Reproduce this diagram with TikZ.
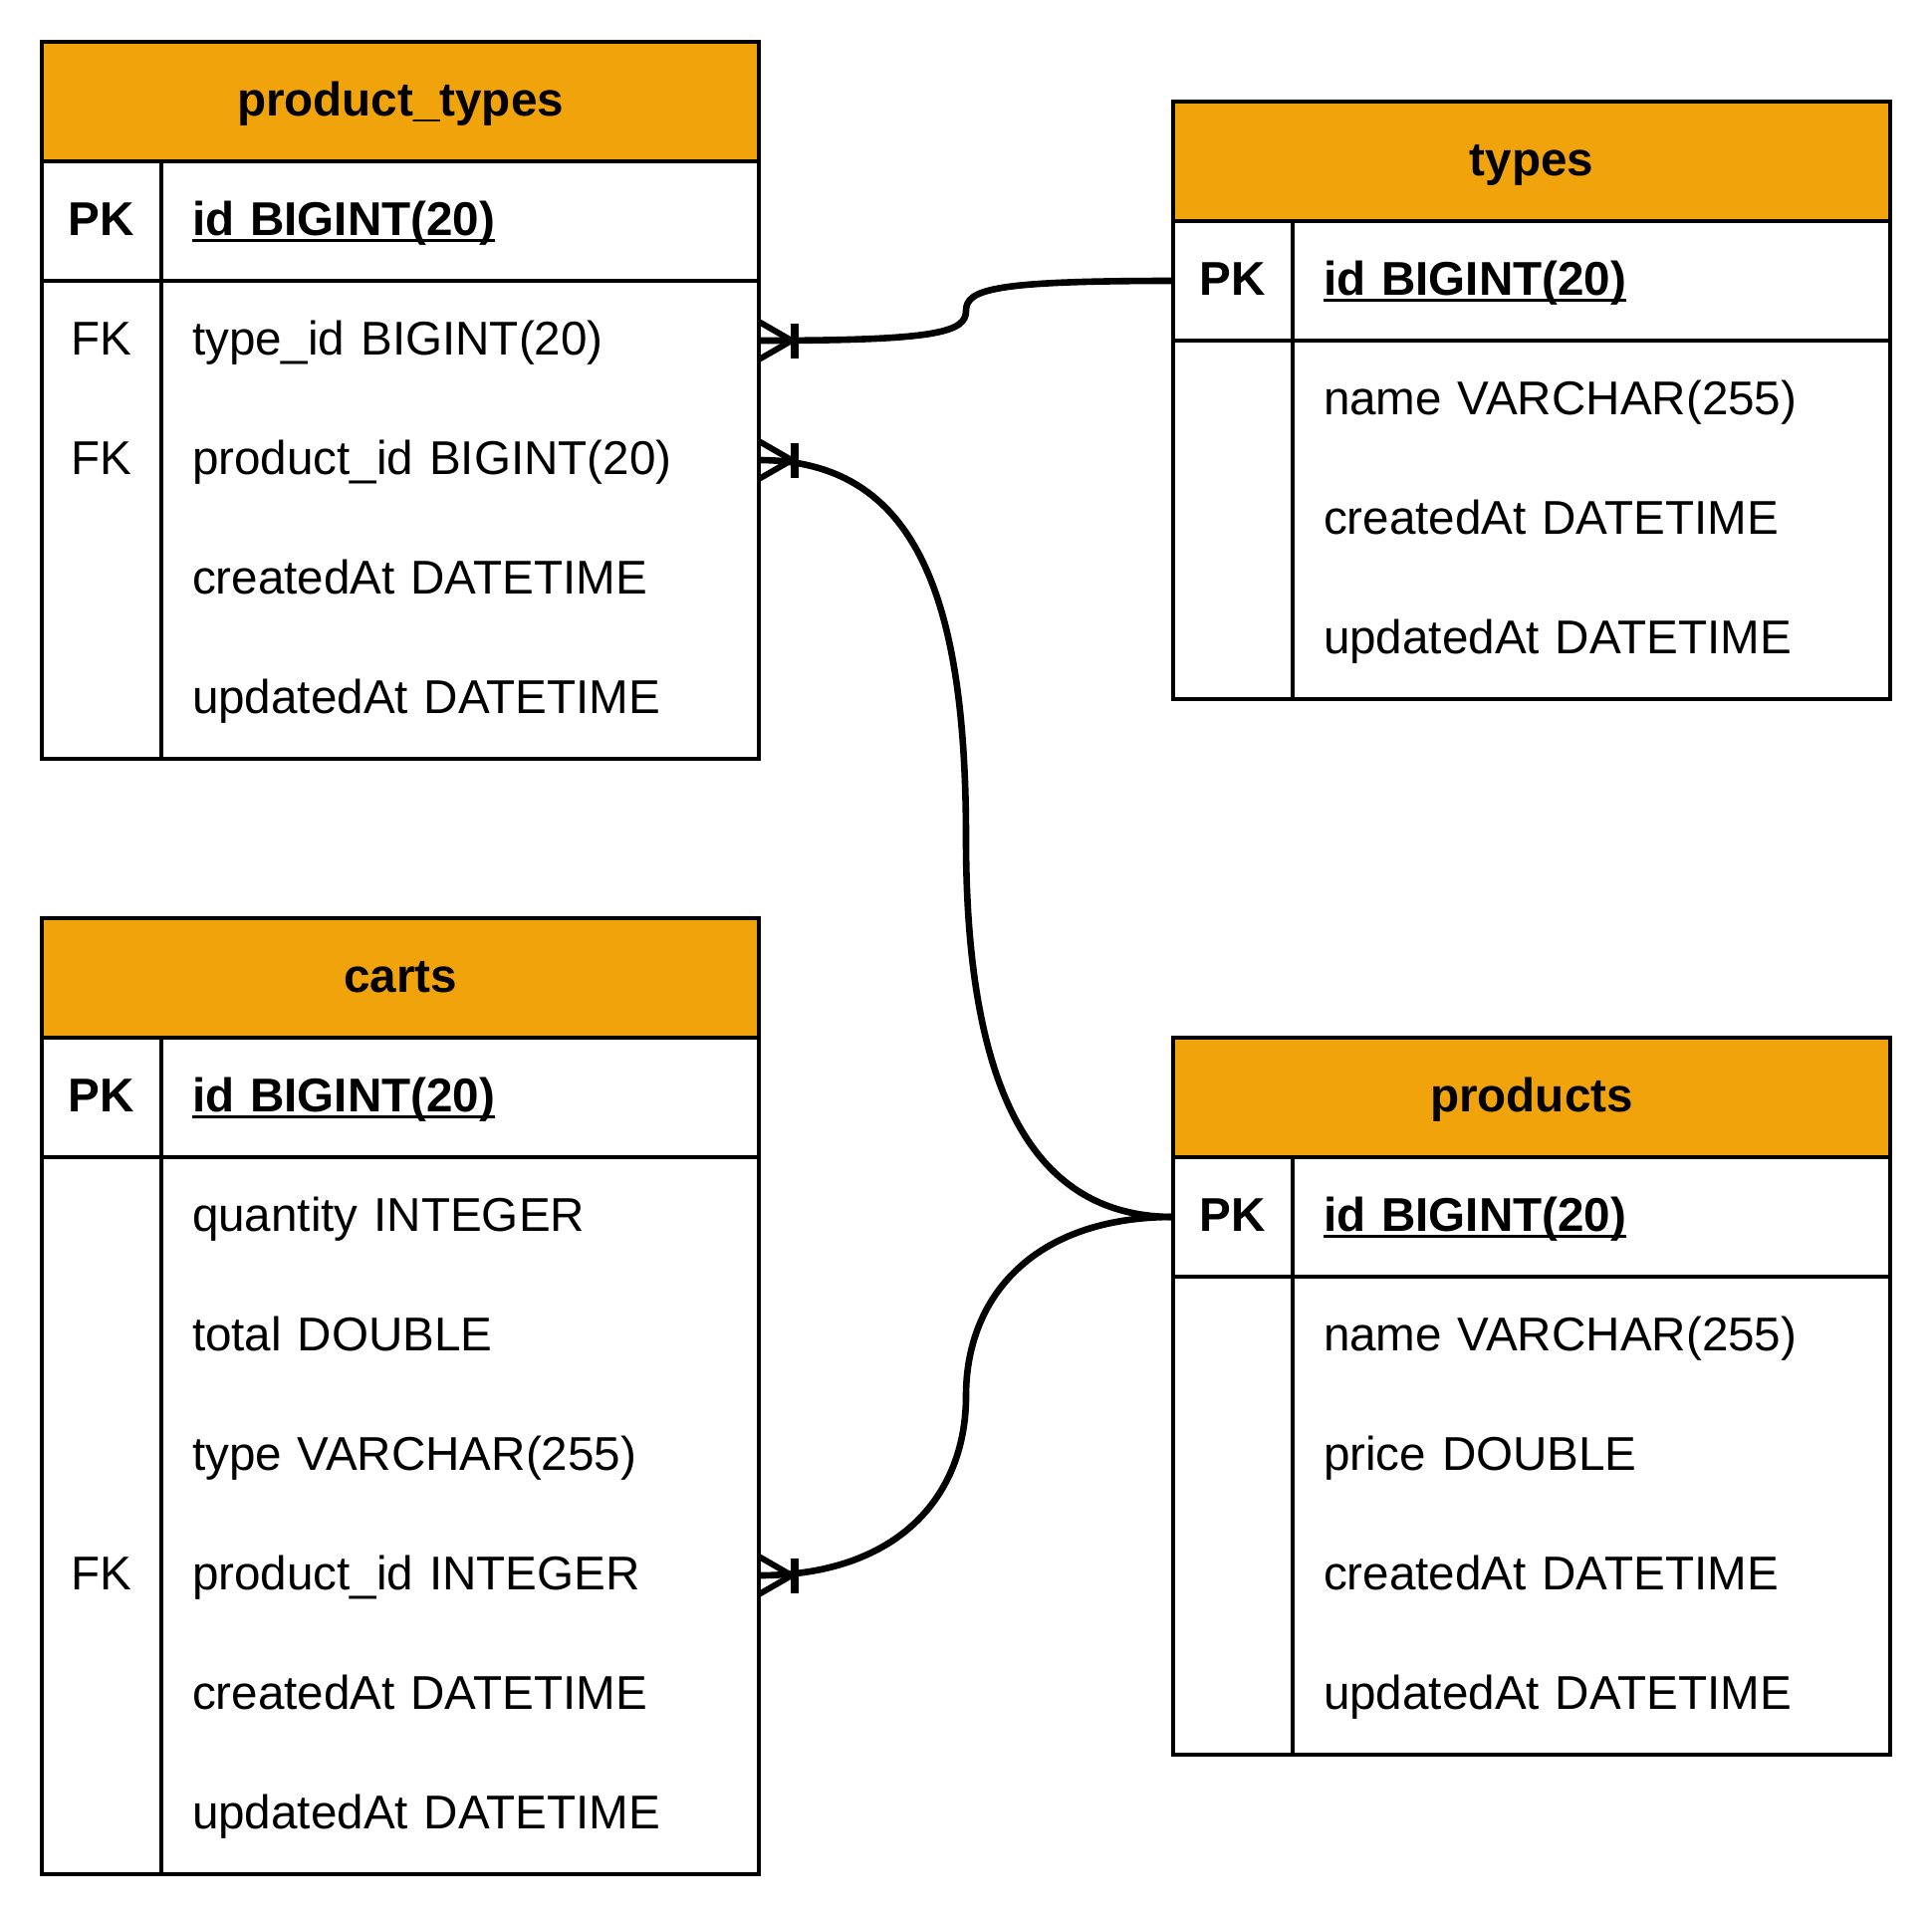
\documentclass[tikz,border=0pt]{standalone}
\usepackage{fontspec}
\setmainfont{Liberation Sans}
\usetikzlibrary{positioning,calc}

\definecolor{hdrorange}{HTML}{F0A30A}
\newcommand\cellfont{\fontsize{23.8pt}{28pt}\selectfont}
\newsavebox\pkbox
\newcommand\pkfield[1]{\sbox\pkbox{\bfseries #1}\rlap{\rule[-3.5pt]{\wd\pkbox}{1.5pt}}\usebox\pkbox}
\newcommand\crowend[1]{%
  \draw[crow] ([yshift=9.5pt]#1) -- ([xshift=16.5pt]#1) -- ([yshift=-9.5pt]#1);
  \draw[crowbar] ([xshift=18pt,yshift=8.75pt]#1) -- ([xshift=18pt,yshift=-8.75pt]#1);}

\begin{document}
\begin{tikzpicture}
  [x=0.5pt,y=-0.5pt,
   tblhead/.style={draw,fill=hdrorange,line width=2pt,minimum width=360pt,minimum height=60pt,
     inner sep=0pt,outer sep=0pt,font=\cellfont\bfseries,text height=19pt,text depth=4.8pt},
   keycell/.style={minimum width=60pt,minimum height=60pt,inner sep=0pt,outer sep=0pt,
     font=\cellfont,text height=19pt,text depth=4.8pt},
   fieldcell/.style={minimum height=60pt,inner xsep=15.5pt,inner ysep=0pt,outer sep=0pt,
     text width=269pt,align=left,font=\cellfont,text height=19pt,text depth=4.8pt},
   tblline/.style={line width=2pt},
   relline/.style={line width=3.3pt},
   crow/.style={line width=3pt},
   crowbar/.style={line width=4pt}]

  \useasboundingbox (0,0) rectangle (1940,1924);

  % product_types
  \node[tblhead] (pt) at (402,102) {product\_types};
  \node[keycell,anchor=north west] (pt-k0) at (pt.south west) {\textbf{PK}};
  \node[fieldcell,right=0pt of pt-k0] (pt-f0) {\pkfield{id BIGINT(20)}};
  \node[keycell,below=0pt of pt-k0] (pt-k1) {FK};
  \node[fieldcell,right=0pt of pt-k1] (pt-f1) {type\_id BIGINT(20)};
  \node[keycell,below=0pt of pt-k1] (pt-k2) {FK};
  \node[fieldcell,right=0pt of pt-k2] (pt-f2) {product\_id BIGINT(20)};
  \node[keycell,below=0pt of pt-k2] (pt-k3) {};
  \node[fieldcell,right=0pt of pt-k3] (pt-f3) {createdAt DATETIME};
  \node[keycell,below=0pt of pt-k3] (pt-k4) {};
  \node[fieldcell,right=0pt of pt-k4] (pt-f4) {updatedAt DATETIME};

  \draw[tblline] (pt.north west) rectangle (pt-f4.south east);
  \draw[tblline] (pt-k0.south west) -- (pt-f0.south east);
  \draw[tblline] (pt-k0.north east) -- (pt-k4.south east);

  % types
  \node[tblhead] (ty) at (1538,162) {types};
  \node[keycell,anchor=north west] (ty-k0) at (ty.south west) {\textbf{PK}};
  \node[fieldcell,right=0pt of ty-k0] (ty-f0) {\pkfield{id BIGINT(20)}};
  \node[keycell,below=0pt of ty-k0] (ty-k1) {};
  \node[fieldcell,right=0pt of ty-k1] (ty-f1) {name VARCHAR(255)};
  \node[keycell,below=0pt of ty-k1] (ty-k2) {};
  \node[fieldcell,right=0pt of ty-k2] (ty-f2) {createdAt DATETIME};
  \node[keycell,below=0pt of ty-k2] (ty-k3) {};
  \node[fieldcell,right=0pt of ty-k3] (ty-f3) {updatedAt DATETIME};

  \draw[tblline] (ty.north west) rectangle (ty-f3.south east);
  \draw[tblline] (ty-k0.south west) -- (ty-f0.south east);
  \draw[tblline] (ty-k0.north east) -- (ty-k3.south east);

  % carts
  \node[tblhead] (ca) at (402,982) {carts};
  \node[keycell,anchor=north west] (ca-k0) at (ca.south west) {\textbf{PK}};
  \node[fieldcell,right=0pt of ca-k0] (ca-f0) {\pkfield{id BIGINT(20)}};
  \node[keycell,below=0pt of ca-k0] (ca-k1) {};
  \node[fieldcell,right=0pt of ca-k1] (ca-f1) {quantity INTEGER};
  \node[keycell,below=0pt of ca-k1] (ca-k2) {};
  \node[fieldcell,right=0pt of ca-k2] (ca-f2) {total DOUBLE};
  \node[keycell,below=0pt of ca-k2] (ca-k3) {};
  \node[fieldcell,right=0pt of ca-k3] (ca-f3) {type VARCHAR(255)};
  \node[keycell,below=0pt of ca-k3] (ca-k4) {FK};
  \node[fieldcell,right=0pt of ca-k4] (ca-f4) {product\_id INTEGER};
  \node[keycell,below=0pt of ca-k4] (ca-k5) {};
  \node[fieldcell,right=0pt of ca-k5] (ca-f5) {createdAt DATETIME};
  \node[keycell,below=0pt of ca-k5] (ca-k6) {};
  \node[fieldcell,right=0pt of ca-k6] (ca-f6) {updatedAt DATETIME};

  \draw[tblline] (ca.north west) rectangle (ca-f6.south east);
  \draw[tblline] (ca-k0.south west) -- (ca-f0.south east);
  \draw[tblline] (ca-k0.north east) -- (ca-k6.south east);

  % products
  \node[tblhead] (pr) at (1538,1102) {products};
  \node[keycell,anchor=north west] (pr-k0) at (pr.south west) {\textbf{PK}};
  \node[fieldcell,right=0pt of pr-k0] (pr-f0) {\pkfield{id BIGINT(20)}};
  \node[keycell,below=0pt of pr-k0] (pr-k1) {};
  \node[fieldcell,right=0pt of pr-k1] (pr-f1) {name VARCHAR(255)};
  \node[keycell,below=0pt of pr-k1] (pr-k2) {};
  \node[fieldcell,right=0pt of pr-k2] (pr-f2) {price DOUBLE};
  \node[keycell,below=0pt of pr-k2] (pr-k3) {};
  \node[fieldcell,right=0pt of pr-k3] (pr-f3) {createdAt DATETIME};
  \node[keycell,below=0pt of pr-k3] (pr-k4) {};
  \node[fieldcell,right=0pt of pr-k4] (pr-f4) {updatedAt DATETIME};

  \draw[tblline] (pr.north west) rectangle (pr-f4.south east);
  \draw[tblline] (pr-k0.south west) -- (pr-f0.south east);
  \draw[tblline] (pr-k0.north east) -- (pr-k4.south east);

  % relations
  \coordinate (m1) at ($(pt-f1.east)!0.5!(ty-k0.west)$);
  \coordinate (m2) at ($(pt-f2.east)!0.5!(pr-k0.west)$);
  \coordinate (m3) at ($(ca-f4.east)!0.5!(pr-k0.west)$);

  \draw[relline] (pt-f1.east) .. controls ($(pt-f1.east)+(178,0)$) and ($(m1)+(0,22)$) .. (m1)
    .. controls ($(m1)+(0,-22)$) and ($(ty-k0.west)+(-178,0)$) .. (ty-k0.west);
  \draw[relline] (pt-f2.east) .. controls ($(pt-f2.east)+(158,0)$) and ($(m2)+(0,-242)$) .. (m2)
    .. controls ($(m2)+(0,258)$) and ($(pr-k0.west)+(-138,0)$) .. (pr-k0.west);
  \draw[relline] (ca-f4.east) .. controls ($(ca-f4.east)+(140,0)$) and ($(m3)+(0,100)$) .. (m3)
    .. controls ($(m3)+(0,-100)$) and ($(pr-k0.west)+(-140,0)$) .. (pr-k0.west);

  \crowend{pt-f1.east}
  \crowend{pt-f2.east}
  \crowend{ca-f4.east}

\end{tikzpicture}
\end{document}
